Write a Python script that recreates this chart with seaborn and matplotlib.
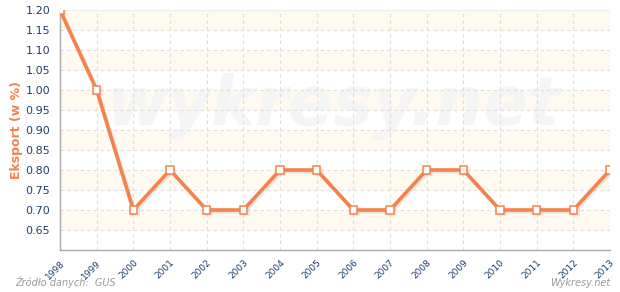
import matplotlib
matplotlib.use("Agg")
import matplotlib.pyplot as plt
import matplotlib.patheffects as pe
import seaborn as sns
import pandas as pd
import numpy as np

years = [1998, 1999, 2000, 2001, 2002, 2003, 2004, 2005, 2006, 2007,
         2008, 2009, 2010, 2011, 2012, 2013]
values = [1.20, 1.00, 0.70, 0.80, 0.70, 0.70, 0.80, 0.80, 0.70, 0.70,
          0.80, 0.80, 0.70, 0.70, 0.70, 0.80]
y_ticks = [0.65, 0.70, 0.75, 0.80, 0.85, 0.90, 0.95, 1.00, 1.05, 1.10, 1.15, 1.20]
y_label = "Eksport (w %)"
source_text = "Źródło danych:  GUS"
brand_text = "Wykresy.net"
watermark = "wykresy.net"

df = pd.DataFrame({"rok": years, "wartosc": values})

sns.set_style("white")
plt.rcParams['font.family'] = ['DejaVu Sans']

fig = plt.figure(figsize=(6.2, 2.92), dpi=100)
ax = fig.add_axes([60/620, 1-250/292, 550/620, 240/292])

# alternating bands
band_color = "#fffaef"
for lo in [1.15, 1.05, 0.95, 0.85, 0.75, 0.65]:
    ax.axhspan(lo, lo + 0.05, color=band_color, zorder=0, lw=0)

# watermark (below grid)
ax.text(0.497, 0.521, watermark, transform=ax.transAxes, ha="center", va="baseline",
        fontsize=48, fontweight="bold", fontstyle="italic", color="#f5f5f5", zorder=0.5)

# grid
for yt in y_ticks:
    ax.axhline(yt, color="#dddddd", lw=0.8, ls=(0, (3, 3)), zorder=1)
for xt in years:
    ax.axvline(xt, color="#dddddd", lw=0.8, ls=(0, (3, 3)), zorder=1)

sns.lineplot(data=df, x="rok", y="wartosc", ax=ax, color="#f5824a", lw=2.6,
             marker="s", markersize=5.5, markerfacecolor="white",
             markeredgecolor="#f5824a", markeredgewidth=1.1, zorder=3,
             path_effects=[pe.SimpleLineShadow(offset=(1.2, -1.2), shadow_color="#aaaaaa", alpha=0.25),
                           pe.Normal()])

ax.set_xlim(1998, 2013)
ax.set_ylim(0.60, 1.20)
ax.set_yticks(y_ticks)
ax.set_yticklabels([f"{v:.2f}" for v in y_ticks])
ax.set_xticks(years)
ax.set_xticklabels([str(y) for y in years], rotation=45, ha="right",
                   rotation_mode="anchor")
ax.tick_params(axis="y", labelsize=8, colors="#1c3f6e", length=4, width=0.8, pad=3)
ax.tick_params(axis="x", labelsize=6.5, colors="#1c3f6e", length=4, width=0.8, pad=2)
for lbl in ax.get_xticklabels() + ax.get_yticklabels():
    lbl.set_color("#1c3f6e")
ax.tick_params(axis="both", color="#aaaaaa", direction="out")

ax.set_xlabel("")
ax.set_ylabel(y_label, color="#f5824a", fontsize=9, fontweight="bold", labelpad=2)

for side in ["top", "right"]:
    ax.spines[side].set_visible(False)
ax.spines["left"].set_color("#aaaaaa")
ax.spines["bottom"].set_color("#aaaaaa")
ax.spines["left"].set_linewidth(1)
ax.spines["bottom"].set_linewidth(1)
ax.axhline(1.20, color="#eeeeee", lw=0.8, zorder=1)
ax.axvline(2013, color="#eeeeee", lw=0.8, zorder=1)

fig.text(15/620, 1-288/292, source_text, fontsize=7, fontstyle="italic", color="#999999",
         ha="left", va="bottom")
fig.text(610/620, 1-288/292, brand_text, fontsize=7, fontstyle="italic", color="#999999",
         ha="right", va="bottom")

fig.savefig("out.png", dpi=100)
